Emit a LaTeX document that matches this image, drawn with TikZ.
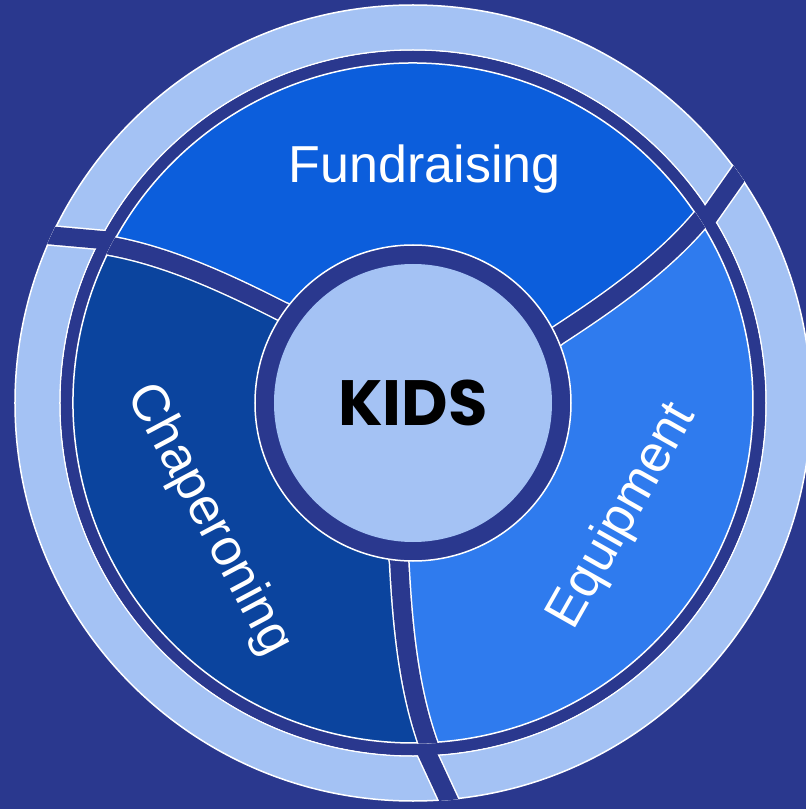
\documentclass[tikz,border=0pt]{standalone}
\usepackage{fontspec}
\setmainfont{Liberation Sans}
\newfontfamily\kidsfont{Poppins}

\definecolor{bgnavy}{HTML}{2A388E}
\definecolor{paleblue}{HTML}{A4C2F4}
\definecolor{fundblue}{HTML}{0C5EDC}
\definecolor{chapblue}{HTML}{0B449E}
\definecolor{equipblue}{HTML}{2F7BEE}

\begin{document}
\begin{tikzpicture}[
    outline/.style={draw=white, line width=1.5pt},
    gapedge/.style={draw=white, line width=21pt},
    gapcore/.style={draw=bgnavy, line width=18pt},
    seglabel/.style={text=white, anchor=base, inner sep=0pt, font=\fontsize{52}{60}\selectfont}]
  \useasboundingbox (-413pt,-406pt) rectangle (393pt,403pt);
  \fill[bgnavy] (-413pt,-406pt) rectangle (393pt,403pt);

  % outer ring, cut in three
  \draw[outline, fill=paleblue, even odd rule] (0,0) circle (398pt) (0,0) circle (353pt);
  \begin{scope}
    \clip (0,0) circle (398.75pt);
    \foreach \a in {25,145,265} {
      \draw[gapedge] (\a+8.9:376pt) ++(\a+29.9:35pt) -- ++(\a+209.9:75pt);
      \draw[gapcore] (\a+8.9:376pt) ++(\a+29.9:35pt) -- ++(\a+209.9:75pt);
    }
  \end{scope}
  \fill[bgnavy] (0,0) circle (352.2pt);

  % the three segments
  \foreach \a/\col in {25/fundblue,145/chapblue,265/equipblue}
    \draw[outline, fill=\col] (0,0) -- (\a:159pt)
      .. controls (\a+2.2:218.6pt) and (\a+3.95:283.2pt) .. (\a+7.5:340pt)
      arc[start angle=\a+7.5, end angle=\a+127.5, radius=340pt]
      .. controls (\a+123.95:283.2pt) and (\a+122.2:218.6pt) .. (\a+120:159pt) -- cycle;
  \begin{scope}
    \clip (0,0) circle (340.75pt);
    \foreach \a in {25,145,265} {
      \draw[gapedge] (\a-1:150pt) -- (\a:159pt)
        .. controls (\a+2.2:218.6pt) and (\a+3.95:283.2pt) .. (\a+7.5:340pt) -- ++(\a+24.5:20pt);
      \draw[gapcore] (\a-1:150pt) -- (\a:159pt)
        .. controls (\a+2.2:218.6pt) and (\a+3.95:283.2pt) .. (\a+7.5:340pt) -- ++(\a+24.5:20pt);
    }
  \end{scope}

  % hub
  \draw[outline, fill=bgnavy] (0,0) circle (158pt);
  \node[circle, fill=paleblue, minimum size=278pt, inner sep=0pt,
        font=\kidsfont\bfseries\fontsize{64}{70}\selectfont] (kids) at (0,0) {KIDS};

  \node[seglabel] (fund) at (11.6pt,220.3pt) {Fundraising};
  \node[seglabel, rotate=-62] (chap) at (-216.1pt,-123.2pt) {Chaperoning};
  \node[seglabel, rotate=60.5] (equip) at (221.9pt,-120.1pt) {Equipment};
\end{tikzpicture}
\end{document}
